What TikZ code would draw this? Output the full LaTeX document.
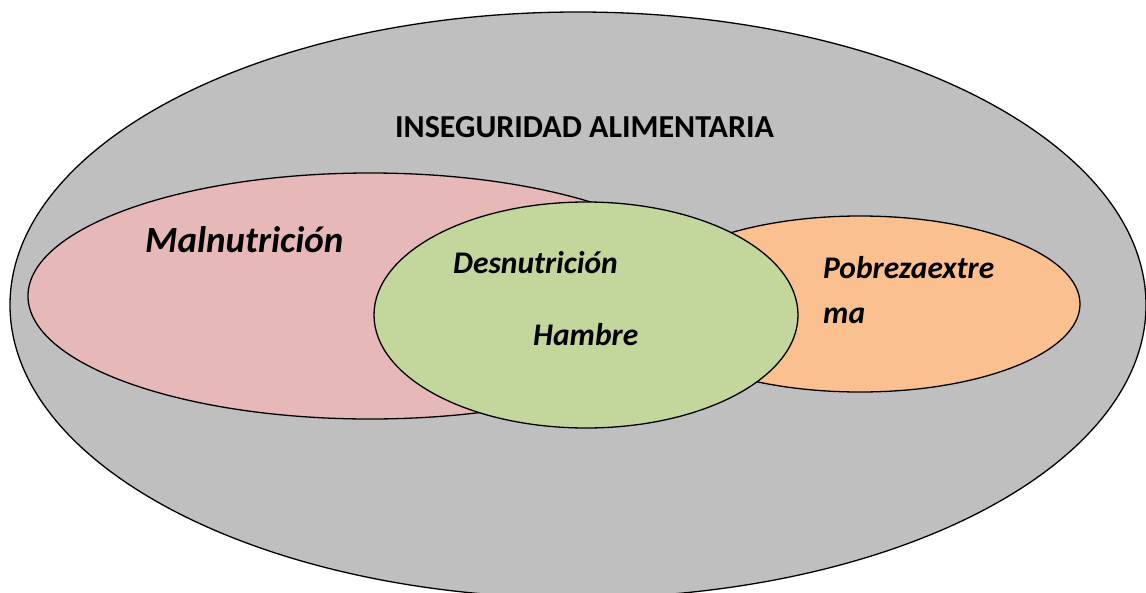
\documentclass[tikz,border=0pt]{standalone}
\usepackage{fontspec}
\setmainfont{Carlito}
\usetikzlibrary{shapes.geometric}
\definecolor{grayfill}{HTML}{BFBFBF}
\definecolor{pinkfill}{HTML}{E6B8B7}
\definecolor{greenfill}{HTML}{C3D69B}
\definecolor{orangefill}{HTML}{FAC090}
\tikzset{
  blob/.style={ellipse, draw=black, line width=1.3pt, inner sep=0pt},
  lbl/.style={anchor=base west, inner sep=0pt, font=\bfseries\itshape}
}
\begin{document}
\begin{tikzpicture}[x=1pt, y=-1pt]
\useasboundingbox (0,0) rectangle (1146,592);
\clip (0,0) rectangle (1146,592);
\node[blob, fill=grayfill, minimum width=1136pt, minimum height=586pt] (gray) at (578,305) {};
\node[blob, fill=pinkfill, minimum width=684pt, minimum height=246pt] (pink) at (370,296) {};
\node[blob, fill=orangefill, minimum width=440pt, minimum height=176pt] (orange) at (860,304) {};
\node[blob, fill=greenfill, minimum width=424pt, minimum height=226pt] (green) at (586,315) {};
\node[anchor=base west, inner sep=0pt, font=\bfseries\fontsize{32}{38}\selectfont] (title) at (395,137) {INSEGURIDAD ALIMENTARIA};
\node[lbl, font=\bfseries\itshape\fontsize{37}{44}\selectfont] (maln) at (145,252) {Malnutrición};
\node[lbl, font=\bfseries\itshape\fontsize{31.5}{38}\selectfont] (desn) at (453,273) {Desnutrición};
\node[lbl, font=\bfseries\itshape\fontsize{31.5}{38}\selectfont] (hamb) at (533,345) {Hambre};
\node[lbl, font=\bfseries\itshape\fontsize{31.5}{38}\selectfont] (pob1) at (823,278) {Pobrezaextre};
\node[lbl, font=\bfseries\itshape\fontsize{31.5}{38}\selectfont] (pob2) at (823,323) {ma};
\end{tikzpicture}
\end{document}
